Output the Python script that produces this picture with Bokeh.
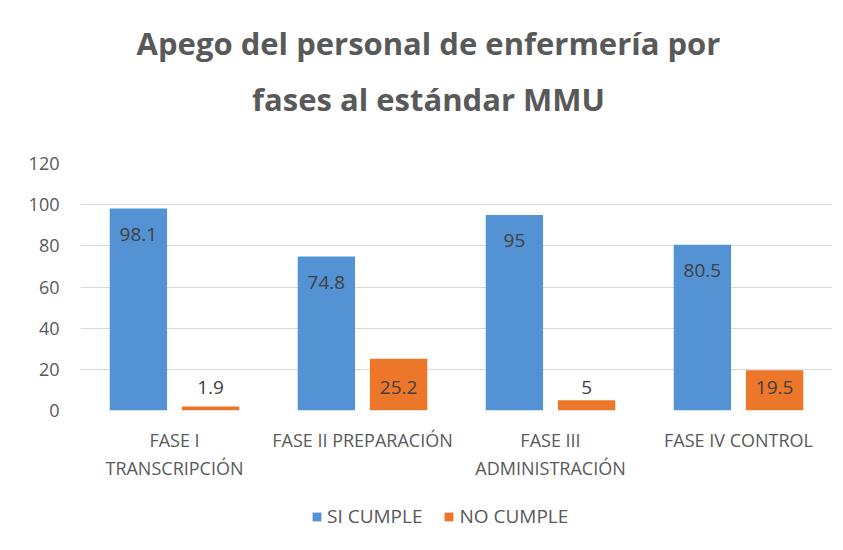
from bokeh.plotting import figure
from bokeh.layouts import column
from bokeh.models import (FactorRange, Range1d, FixedTicker, Label, Legend, LegendItem,
                          ColumnDataSource, LabelSet)
from bokeh.core.properties import value
from bokeh.transform import dodge
from bokeh.embed import file_html
from bokeh.resources import INLINE

categories = ["FASE I\nTRANSCRIPCIÓN", "FASE II PREPARACIÓN", "FASE III\nADMINISTRACIÓN", "FASE IV CONTROL"]
si_cumple = [98.1, 74.8, 95, 80.5]
no_cumple = [1.9, 25.2, 5, 19.5]
y_ticks = [0, 20, 40, 60, 80, 100, 120]
title_lines = ["Apego del personal de enfermería por", "fases al estándar MMU"]
series_names = ["SI CUMPLE", "NO CUMPLE"]

BLUE = "#5393D3"
ORANGE = "#EC7629"
FONT = "Open Sans"
W = 835
TITLE_H = 140
MAIN_H = 350
LEG_H = 52


def strip(height):
    f = figure(width=W, height=height, output_backend="svg", toolbar_location=None,
               x_axis_location=None, y_axis_location=None,
               min_border_left=0, min_border_right=0, min_border_top=0, min_border_bottom=0,
               x_range=Range1d(0, 1), y_range=Range1d(0, 1))
    f.outline_line_color = None
    f.xgrid.visible = False
    f.ygrid.visible = False
    f.border_fill_color = "white"
    f.background_fill_color = "white"
    return f


# ---- title strip ----
t = strip(TITLE_H)
for line, base in zip(title_lines, [42, 98]):
    t.add_layout(Label(x=348, y=TITLE_H - base, x_units="screen", y_units="screen",
                       text=line, text_align="center", text_baseline="alphabetic",
                       text_font=FONT, text_font_style="bold", text_font_size="31px",
                       text_color="#595959"))

# ---- chart ----
src = ColumnDataSource(dict(
    cat=categories, si=si_cumple, no=no_cumple,
    si_lbl=[f"{v:g}" for v in si_cumple],
    no_lbl=[f"{v:g}" for v in no_cumple],
    zero=[0] * len(categories),
))

p = figure(x_range=FactorRange(*categories, range_padding=0), y_range=Range1d(0, 120),
           width=W, height=MAIN_H, output_backend="svg", toolbar_location=None,
           min_border_left=80, min_border_right=3, min_border_top=163 - TITLE_H,
           min_border_bottom=80)
p.x_range.factor_padding = 0
p.outline_line_color = None
p.background_fill_color = "white"
p.border_fill_color = "white"

off = 0.192
bw = 0.305
r1 = p.vbar(x=dodge("cat", -off, range=p.x_range), top="si", width=bw, source=src,
            fill_color=BLUE, line_color=None)
r2 = p.vbar(x=dodge("cat", off, range=p.x_range), top="no", width=bw, source=src,
            fill_color=ORANGE, line_color=None)

# data labels: inside end for SI CUMPLE, inside base for NO CUMPLE
p.add_layout(LabelSet(x=dodge("cat", -off, range=p.x_range), y="si", text="si_lbl", source=src,
                      text_align="center", text_baseline="middle", y_offset=-26,
                      text_font=value(FONT), text_font_size="19px", text_color="#404040"))
p.add_layout(LabelSet(x=dodge("cat", off, range=p.x_range), y="zero", text="no_lbl", source=src,
                      text_align="center", text_baseline="middle", y_offset=23,
                      text_font=value(FONT), text_font_size="19px", text_color="#404040"))

# axes
p.yaxis.ticker = FixedTicker(ticks=y_ticks)
p.yaxis.axis_line_color = None
p.yaxis.major_tick_line_color = None
p.yaxis.minor_tick_line_color = None
p.yaxis.major_tick_out = 0
p.yaxis.major_tick_in = 0
p.yaxis.major_label_standoff = 21
p.yaxis.major_label_text_font = FONT
p.yaxis.major_label_text_font_size = "18px"
p.yaxis.major_label_text_color = "#595959"

p.xaxis.axis_line_color = None
p.xaxis.major_tick_line_color = None
p.xaxis.minor_tick_line_color = None
p.xaxis.major_tick_out = 0
p.xaxis.major_tick_in = 0
p.xaxis.major_label_standoff = 17
p.xaxis.major_label_text_font = FONT
p.xaxis.major_label_text_font_size = "18px"
p.xaxis.major_label_text_color = "#595959"

p.xgrid.grid_line_color = None
p.ygrid.grid_line_color = "#D9D9D9"
p.ygrid.grid_line_width = 1

# ---- legend strip (legend swatches use hidden copies of the two series) ----
lg = strip(LEG_H)
k1 = lg.vbar(x="zero", top="si", width=bw, source=src, fill_color=BLUE, line_color=None,
             visible=False)
k2 = lg.vbar(x="zero", top="no", width=bw, source=src, fill_color=ORANGE, line_color=None,
             visible=False)
legend = Legend(items=[LegendItem(label=series_names[0], renderers=[k1]),
                       LegendItem(label=series_names[1], renderers=[k2])],
                orientation="horizontal", location=(231, 13),
                label_text_font=FONT, label_text_font_size="19px", label_text_color="#595959",
                glyph_width=11, glyph_height=11, spacing=21, label_standoff=5,
                inactive_fill_alpha=0,
                border_line_color=None, background_fill_alpha=0, margin=0, padding=6)
lg.add_layout(legend)

layout = column(t, p, lg, spacing=0)
open("out.html", "w").write(file_html(layout, INLINE))
